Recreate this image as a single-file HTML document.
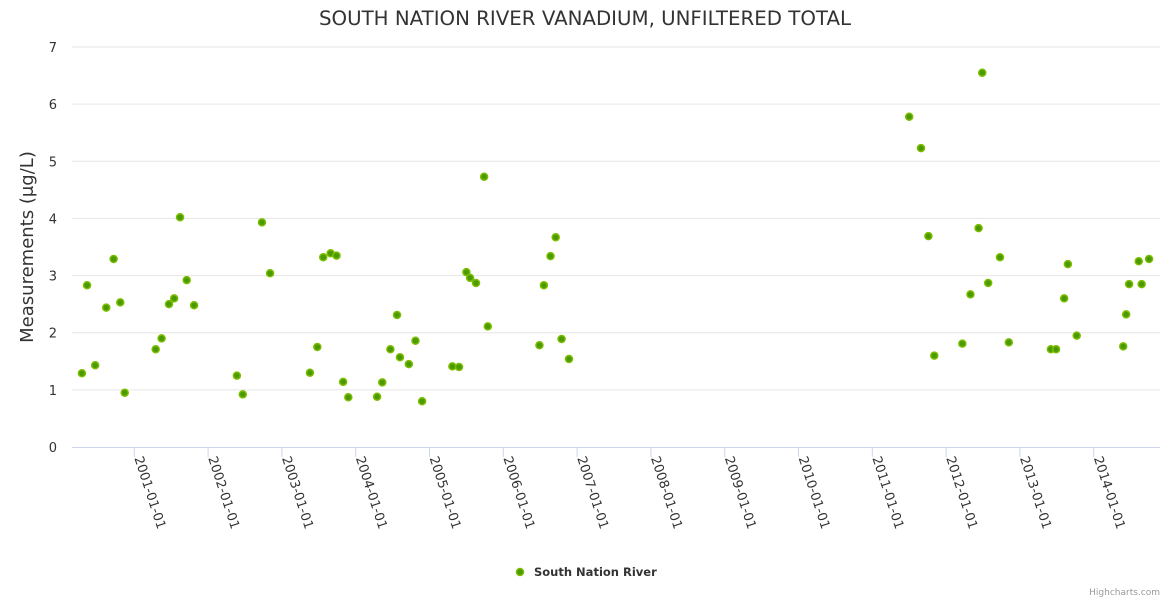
<!DOCTYPE html>
<html><head><meta charset="utf-8"><style>
body{margin:0;background:#fff;font-family:"DejaVu Sans",sans-serif}
svg text{font-family:"DejaVu Sans",sans-serif}
</style></head><body>
<svg id="c" width="1170" height="600">
<text x="585" y="25" text-anchor="middle" font-size="19.8" fill="#333">SOUTH NATION RIVER VANADIUM, UNFILTERED TOTAL</text>
<text transform="translate(33,247) rotate(-90)" text-anchor="middle" font-size="18" fill="#333">Measurements (μg/L)</text>
<g id="grid"></g><g id="xax"></g><g id="pts"></g>
<g>
<circle cx="520" cy="572" r="3.5" fill="#4a9a00" stroke="#7cbd00" stroke-width="1.5"/>
<text x="534" y="576" font-size="11.5" font-weight="bold" fill="#333">South Nation River</text></g>
<text x="1160" y="595" text-anchor="end" font-size="9" fill="#999">Highcharts.com</text>
</svg>
<script>
const years=[2000.29,2000.36,2000.47,2000.62,2000.72,2000.81,2000.87,2001.29,2001.37,2001.47,2001.54,2001.62,2001.71,2001.81,2002.39,2002.47,2002.73,2002.84,2003.38,2003.48,2003.56,2003.66,2003.74,2003.83,2003.90,2004.29,2004.36,2004.47,2004.56,2004.60,2004.72,2004.81,2004.90,2005.31,2005.40,2005.50,2005.55,2005.63,2005.74,2005.79,2006.49,2006.55,2006.64,2006.71,2006.79,2006.89,2011.50,2011.66,2011.76,2011.84,2012.22,2012.33,2012.44,2012.49,2012.57,2012.73,2012.85,2013.42,2013.49,2013.60,2013.65,2013.77,2014.40,2014.44,2014.48,2014.61,2014.65,2014.75];
const values=[1.29,2.83,1.43,2.44,3.29,2.53,0.95,1.71,1.90,2.50,2.60,4.02,2.92,2.48,1.25,0.92,3.93,3.04,1.30,1.75,3.32,3.39,3.35,1.14,0.87,0.88,1.13,1.71,2.31,1.57,1.45,1.86,0.80,1.41,1.40,3.06,2.96,2.87,4.73,2.11,1.78,2.83,3.34,3.67,1.89,1.54,5.78,5.23,3.69,1.60,1.81,2.67,3.83,6.55,2.87,3.32,1.83,1.71,1.71,2.60,3.20,1.95,1.76,2.32,2.85,3.25,2.85,3.29];
const yTicks=[0,1,2,3,4,5,6,7];
const xTickYears=[2001,2002,2003,2004,2005,2006,2007,2008,2009,2010,2011,2012,2013,2014];
const NS='http://www.w3.org/2000/svg';
const X=v=>134.3+(v-2001)*73.8, Y=v=>447-v*400/7;
function mk(t,a,p){const e=document.createElementNS(NS,t);for(const k in a)e.setAttribute(k,a[k]);p.appendChild(e);return e;}
const g=document.getElementById('grid'),xa=document.getElementById('xax'),pg=document.getElementById('pts');
yTicks.forEach(t=>{
 if(t>0){const l=mk('line',{x1:72,x2:1160,y1:Y(t),y2:Y(t),stroke:'#e6e6e6'},g);
 
 }
 const tx=mk('text',{x:57,y:Y(t)+5,'text-anchor':'end','font-size':13,fill:'#333'},g);tx.textContent=t;
 
 
});
mk('line',{x1:72,x2:1160,y1:447.5,y2:447.5,stroke:'#ccd6eb'},xa);
xTickYears.forEach(yv=>{
 const x=X(yv);
 mk('line',{x1:x,x2:x,y1:447,y2:457,stroke:'#ccd6eb'},xa);
 const tx=mk('text',{transform:`translate(${x},458) rotate(72)`,'font-size':13,fill:'#333'},xa);
 tx.textContent=yv+'-01-01';
 
 
});
years.forEach((yv,i)=>{
 const c=mk('circle',{cx:X(yv),cy:Y(values[i]),r:3.5,fill:'#4a9a00',stroke:'#7cbd00','stroke-width':1.5},pg);
 
 
});
</script>
</body></html>
